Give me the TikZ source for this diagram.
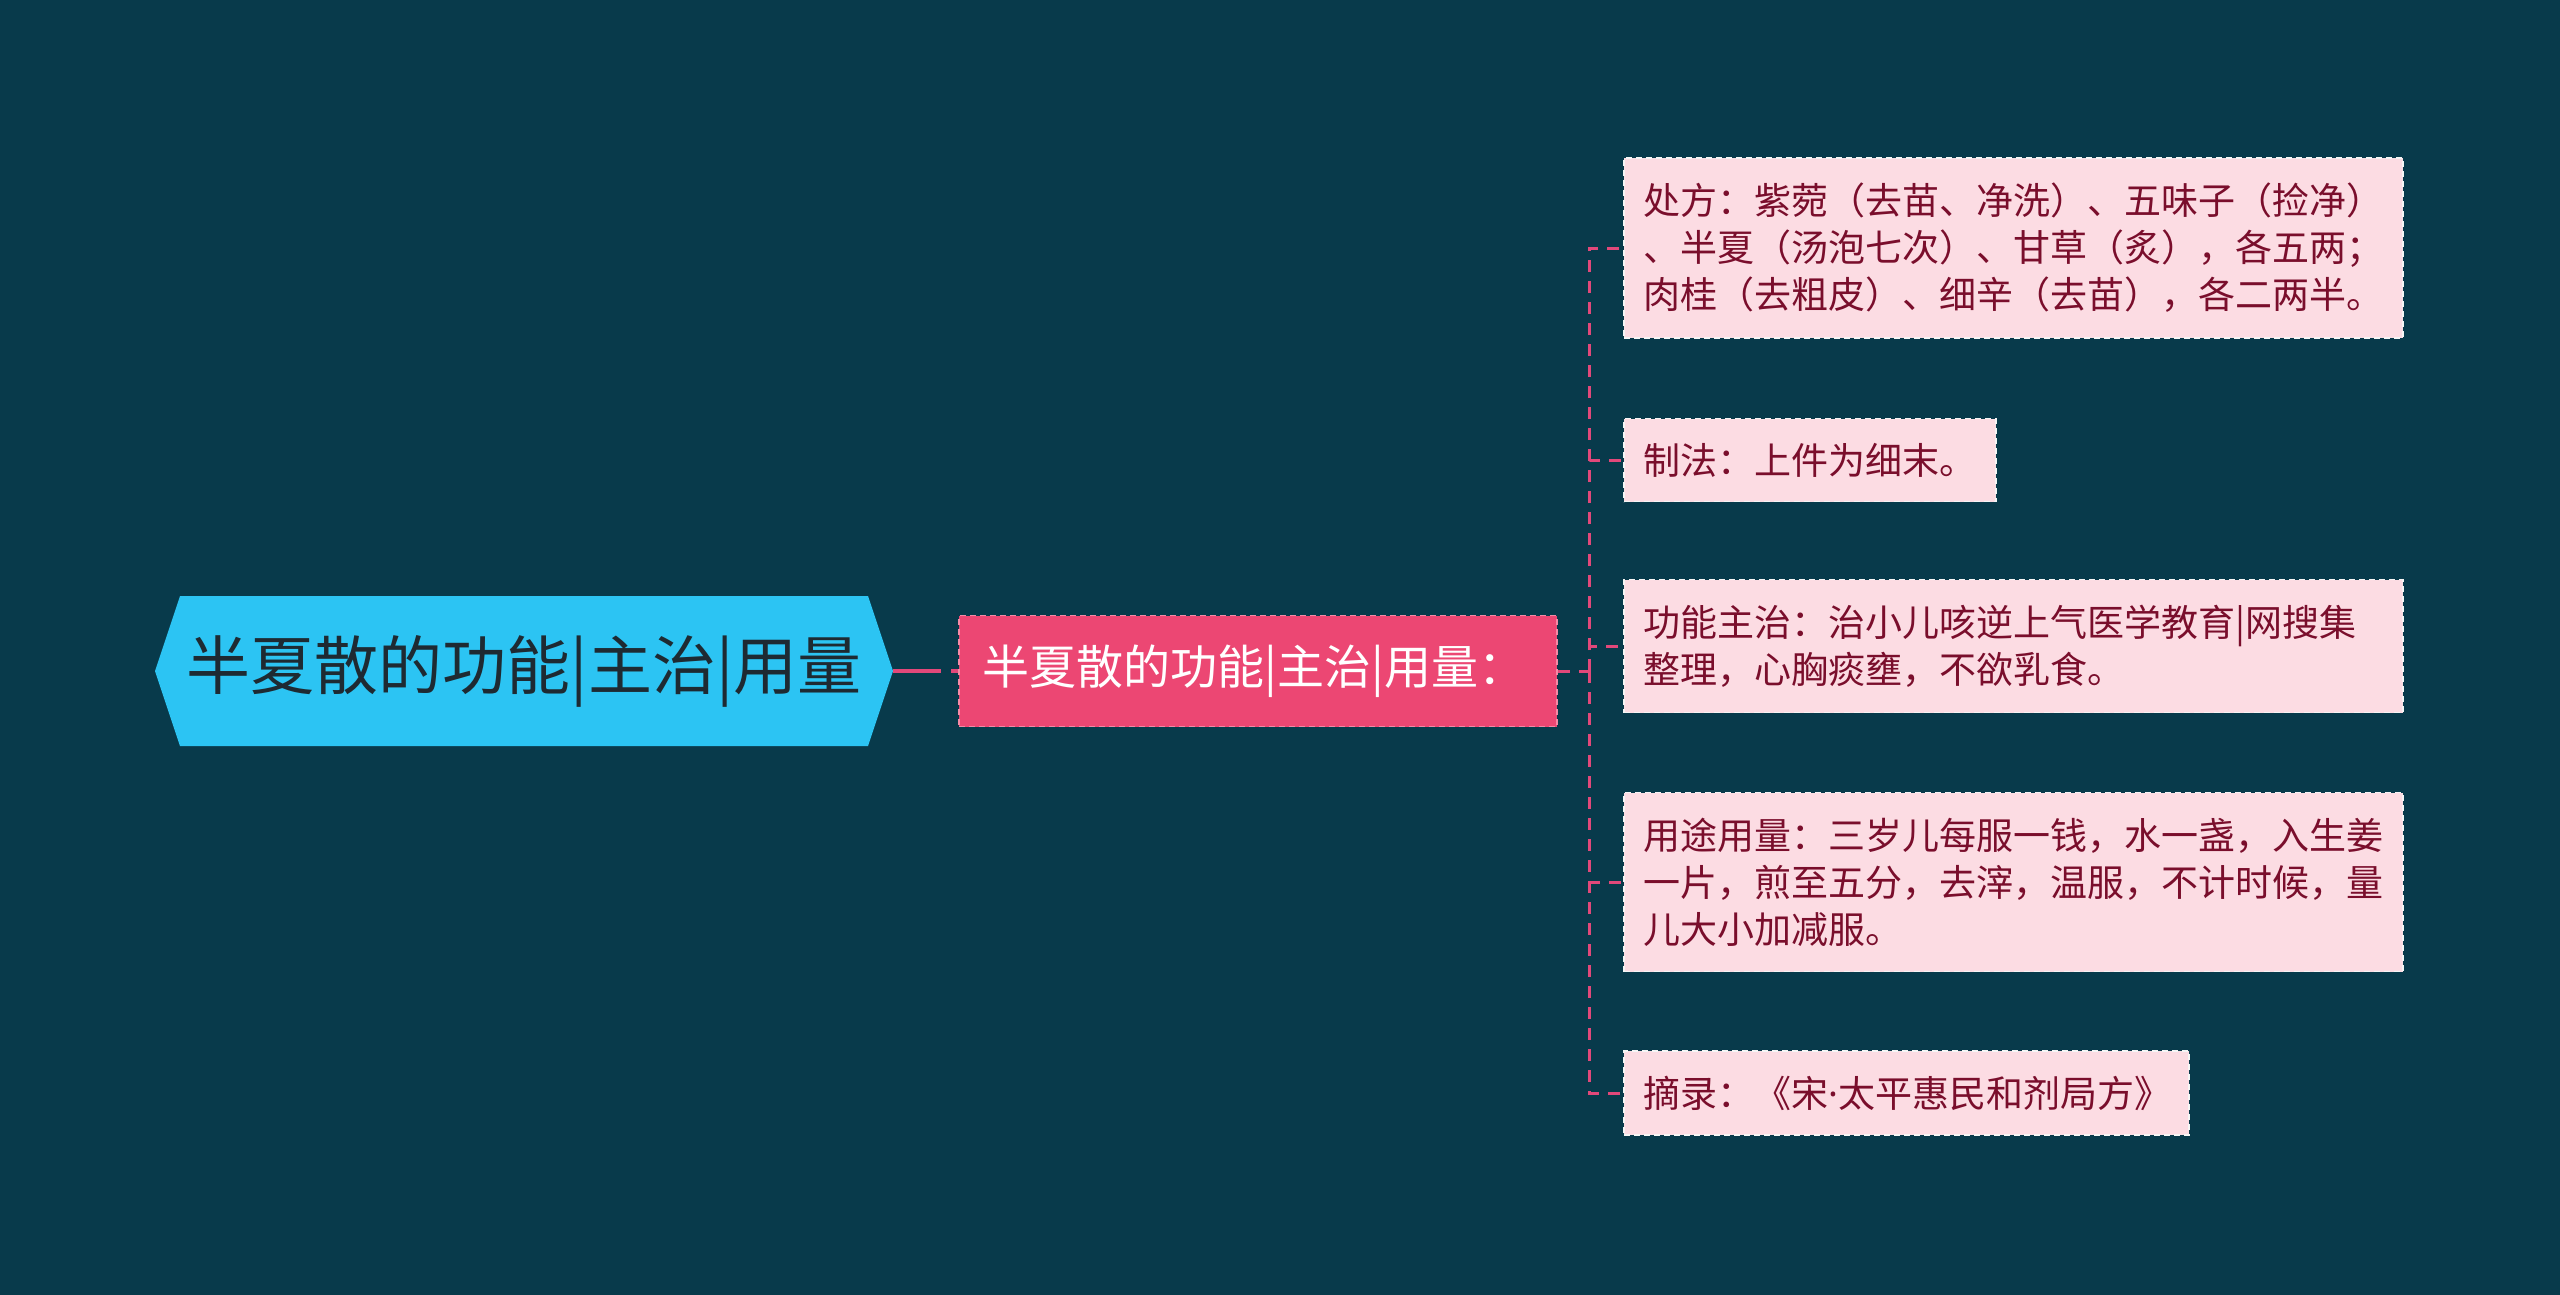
\documentclass[tikz,border=0pt]{standalone}
\usepackage{fontspec}
\setmainfont{Noto Sans CJK SC}
\newfontfamily\latinfont{Noto Sans}
\definecolor{bgc}{HTML}{083A4B}
\definecolor{hexc}{HTML}{2CC4F3}
\definecolor{roottxt}{HTML}{1E2A32}
\definecolor{mainc}{HTML}{EC4773}
\definecolor{mainbd}{HTML}{F58AA6}
\definecolor{leafc}{HTML}{FCDCE3}
\definecolor{leaftxt}{HTML}{7A0E2C}
\definecolor{connc}{HTML}{E2487A}
\tikzset{
  leafbox/.style={draw=white!92!gray, dash pattern=on 6pt off 4pt, line width=1.8pt, fill=leafc,
    text=leaftxt, font=\fontsize{37}{47}\selectfont, align=left, anchor=west,
    inner xsep=20pt, inner ysep=0pt},
  mainbox/.style={draw=mainbd, dash pattern=on 6pt off 4pt, line width=1.8pt, fill=mainc, text=white,
    font=\fontsize{47}{54}\selectfont, anchor=west, align=left, inner xsep=24pt, inner ysep=0pt,
    text width=550pt, minimum height=111pt},
  conn/.style={draw=connc, line width=3pt, dash pattern=on 12pt off 9pt},
  rootconn/.style={draw=connc, line width=4pt, dash pattern=on 48pt off 10pt},
}
\begin{document}
\begin{tikzpicture}[x=1pt,y=1pt]
\fill[bgc] (0,0) rectangle (2560,-1295);
\useasboundingbox (0,0) rectangle (2560,-1295);
% root hexagon
\fill[hexc] (155,-671) -- (180,-596) -- (868,-596) -- (893,-671) -- (868,-746) -- (180,-746) -- cycle;
\node[text=roottxt, font=\fontsize{64}{72}\selectfont, inner sep=0pt] (root) at (524,-671) {半夏散的功能|主治|用量};
\coordinate (rootE) at (893,-671);
% main node
\node[mainbox] (main) at (958,-671) {半夏散的功能|主治|用量：};
\coordinate (junc) at (1589,-671);
% leaves
\node[leafbox, text width=739pt, minimum height=180pt] (l1) at (1623,-248)
  {处方：紫菀（去苗、净洗）、五味子（捡净）\\、半夏（汤泡七次）、甘草（炙），各五两；\\肉桂（去粗皮）、细辛（去苗），各二两半。};
\node[leafbox, text width=332pt, minimum height=83pt] (l2) at (1623,-460)
  {制法：上件为细末。};
\node[leafbox, text width=739pt, minimum height=133pt] (l3) at (1623,-646)
  {功能主治：治小儿咳逆上气医学教育|网搜集\\整理，心胸痰壅，不欲乳食。};
\node[leafbox, text width=739pt, minimum height=179pt] (l4) at (1623,-882)
  {用途用量：三岁儿每服一钱，水一盏，入生姜\\一片，煎至五分，去滓，温服，不计时候，量\\儿大小加减服。};
\node[leafbox, text width=525pt, minimum height=84pt] (l5) at (1623,-1093)
  {摘录：《宋{\latinfont ·}太平惠民和剂局方》};
% connectors
\draw[rootconn] (rootE) -- (main.west);
\draw[conn] (main.east) -- (junc);
\foreach \n in {l1,l2,l3,l4,l5} {
  \draw[conn] (junc) |- (\n.west);
}
\end{tikzpicture}
\end{document}
